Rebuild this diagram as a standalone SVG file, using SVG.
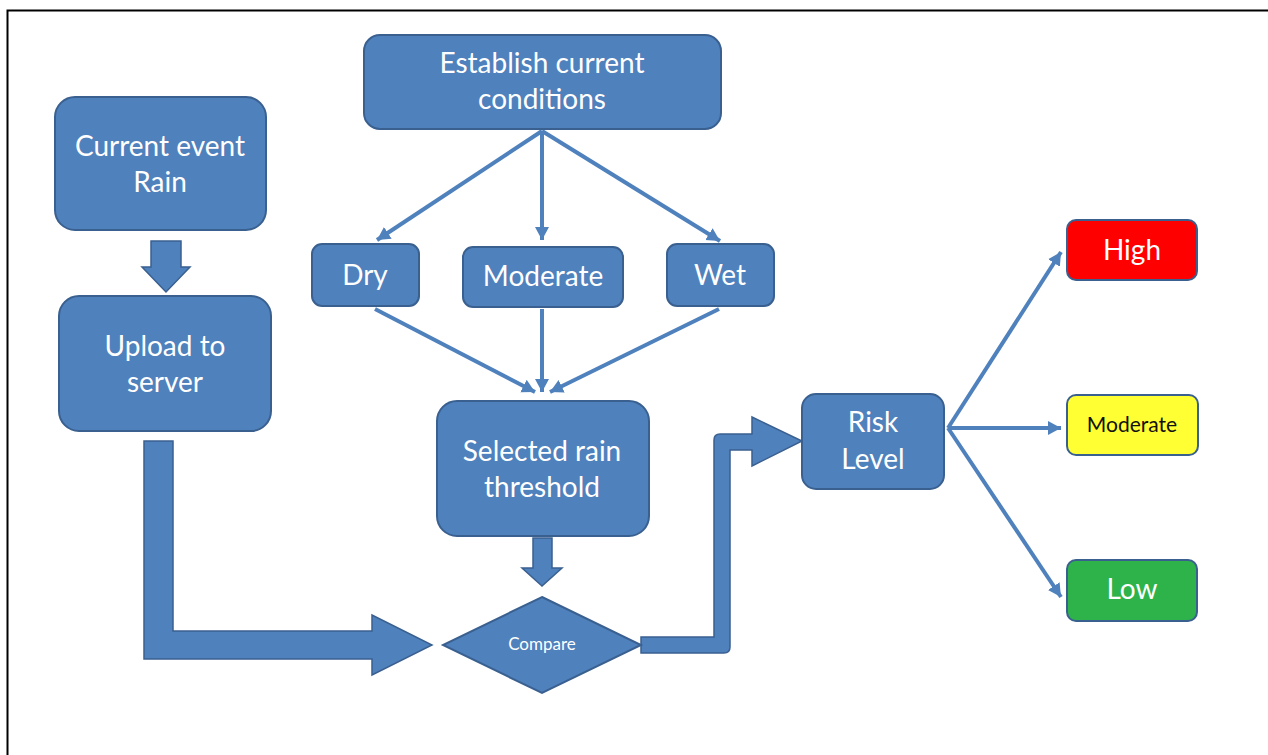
<svg xmlns="http://www.w3.org/2000/svg" width="1268" height="755" viewBox="0 0 1268 755">
<style>
.box{fill:#4f81bd;stroke:#3a6090;stroke-width:2}
.blk{fill:#4f81bd;stroke:#3a6090;stroke-width:1.5}
.t{font-family:Lato,"Open Sans","Liberation Sans",sans-serif;fill:#fff;text-anchor:middle;font-size:28px}
.c{fill:none;stroke:#4f81bd;stroke-width:4;marker-end:url(#ah)}
</style>
<defs>
<marker id="ah" markerUnits="userSpaceOnUse" markerWidth="16" markerHeight="16" refX="13" refY="7" orient="auto">
<path d="M0,0 L13,7 L0,14 Z" fill="#4f81bd"/>
</marker>
</defs>
<rect width="1268" height="755" fill="#fff"/>
<path d="M7.5,755 V10.5 H1268" fill="none" stroke="#000" stroke-width="2"/>

<g id="connectors">
<line class="c" x1="542" y1="131" x2="377" y2="240"/>
<line class="c" x1="542" y1="131" x2="542" y2="240"/>
<line class="c" x1="542" y1="131" x2="720" y2="241"/>
<line class="c" x1="375" y1="309" x2="535" y2="392"/>
<line class="c" x1="542" y1="309" x2="542" y2="392"/>
<line class="c" x1="719" y1="309" x2="550" y2="392"/>
<line class="c" x1="948" y1="428" x2="1061" y2="252"/>
<line class="c" x1="948" y1="428" x2="1061" y2="428"/>
<line class="c" x1="948" y1="428" x2="1061" y2="597"/>
<path class="blk" d="M151,241 H181 V267 H190 L166,292 L142,267 H151 Z"/>
<path class="blk" d="M533,538 H552 V568 H562 L542,586 L522,568 H533 Z"/>
<path class="blk" d="M144,441 H173 V631 H372 V615 L432,645 L372,675 V659 H144 Z"/>
<path class="blk" d="M641,637 H714 V440 Q714,434 720,434 H752 V417 L802,441 L752,466 V450 H730 V647 Q730,653 724,653 H641 Z"/>
</g>

<g id="n-current">
<rect class="box" x="55" y="97" width="211" height="133" rx="20"/>
<text class="t" x="160" y="156">Current event</text>
<text class="t" x="160" y="192">Rain</text>
</g>
<g id="n-upload">
<rect class="box" x="59" y="296" width="212" height="135" rx="20"/>
<text class="t" x="165" y="356">Upload to</text>
<text class="t" x="165" y="392">server</text>
</g>
<g id="n-establish">
<rect class="box" x="364" y="35" width="357" height="94" rx="16"/>
<text class="t" x="542" y="73">Establish current</text>
<text class="t" x="542" y="109">conditions</text>
</g>
<g id="n-dry">
<rect class="box" x="312" y="244" width="107" height="62" rx="10"/>
<text class="t" x="365" y="285">Dry</text>
</g>
<g id="n-moderate">
<rect class="box" x="463" y="247" width="160" height="60" rx="10"/>
<text class="t" x="543" y="286">Moderate</text>
</g>
<g id="n-wet">
<rect class="box" x="667" y="244" width="107" height="62" rx="10"/>
<text class="t" x="720" y="285">Wet</text>
</g>
<g id="n-selected">
<rect class="box" x="437" y="401" width="212" height="135" rx="20"/>
<text class="t" x="542" y="461">Selected rain</text>
<text class="t" x="542" y="497">threshold</text>
</g>
<g id="n-compare">
<path class="box" d="M542,597 L641,645 L542,693 L443,645 Z"/>
<text class="t" x="542" y="650" style="font-size:17px">Compare</text>
</g>
<g id="n-risk">
<rect class="box" x="802" y="394" width="142" height="95" rx="14"/>
<text class="t" x="873" y="432">Risk</text>
<text class="t" x="873" y="469">Level</text>
</g>
<g id="n-high">
<rect x="1067" y="220" width="130" height="60" rx="9" fill="#ff0000" stroke="#3a6090" stroke-width="2"/>
<text class="t" x="1132" y="260">High</text>
</g>
<g id="n-mod">
<rect x="1067" y="395" width="131" height="60" rx="9" fill="#ffff33" stroke="#3a6090" stroke-width="2"/>
<text class="t" x="1132" y="432" style="font-size:21px;fill:#111">Moderate</text>
</g>
<g id="n-low">
<rect x="1067" y="560" width="130" height="61" rx="9" fill="#2db34a" stroke="#3a6090" stroke-width="2"/>
<text class="t" x="1132" y="599">Low</text>
</g>
</svg>
